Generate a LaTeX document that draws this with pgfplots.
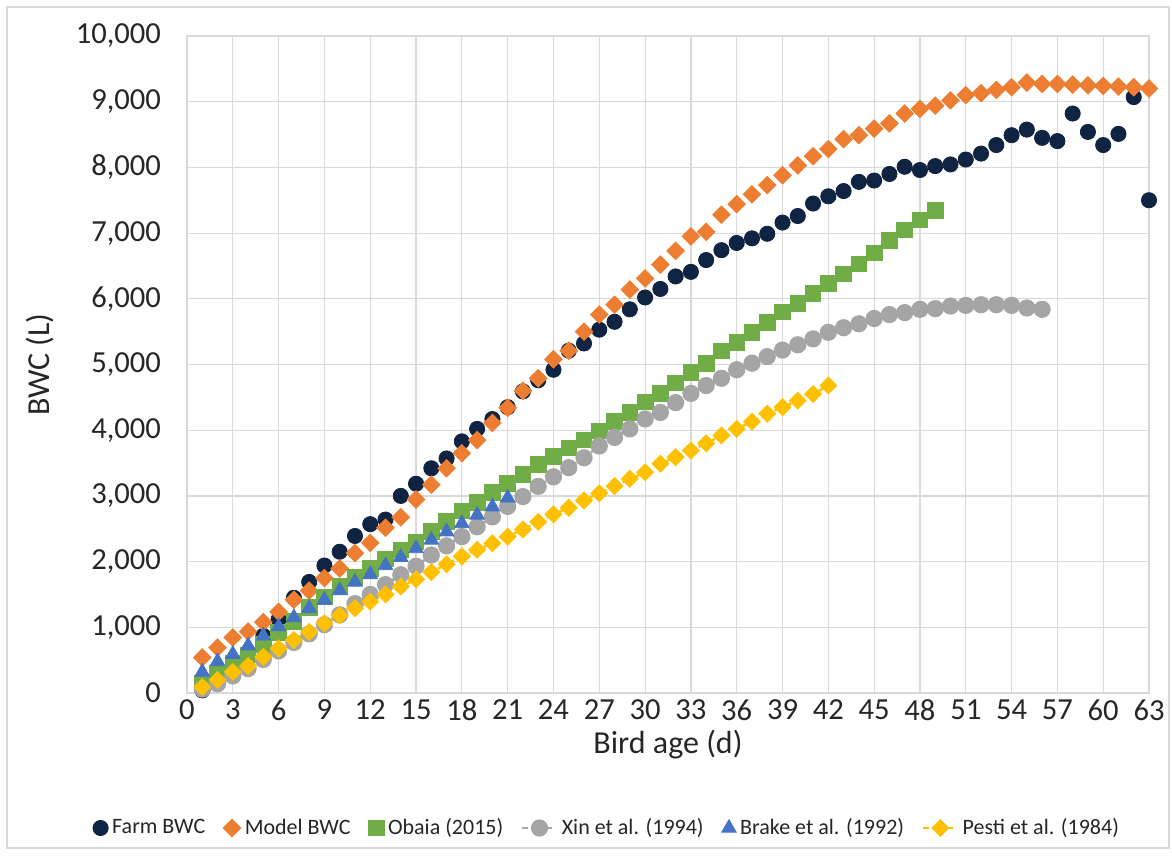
\documentclass[border=0pt]{standalone}
\usepackage{fontspec}
\setmainfont{Carlito}
\usepackage{pgfplots}
\pgfplotsset{compat=1.18}
\definecolor{cfarm}{HTML}{0F2342}
\definecolor{cmodel}{HTML}{ED7D31}
\definecolor{cobaia}{HTML}{70AD47}
\definecolor{cxin}{HTML}{A5A5A5}
\definecolor{cbrake}{HTML}{4472C4}
\definecolor{cpesti}{HTML}{FFC000}
\definecolor{gridc}{HTML}{D9D9D9}
\begin{document}
\begin{tikzpicture}
\path[use as bounding box] (0,0) rectangle (586pt,429pt);
\draw[color=gridc, line width=0.6pt] (3.5pt,5pt) rectangle (584.5pt,425.5pt);
\begin{axis}[
  at={(93.5pt,82.5pt)}, anchor=south west,
  scale only axis, width=481pt, height=328.5pt,
  xmin=0, xmax=63, ymin=0, ymax=10000,
  xtick={0,3,...,63}, ytick={0,1000,...,10000},
  grid=major, grid style={draw=gridc, line width=0.6pt},
  axis line style={draw=gridc, line width=0.6pt},
  major tick length=0pt,
  /pgf/number format/assume math mode=true,
  /pgf/number format/1000 sep={,},
  scaled y ticks=false,
  tick label style={font=\fontsize{15.3}{18}\selectfont, text=black!85},
  yticklabel style={xshift=-9.5pt},
  xlabel={Bird age (d)}, ylabel={BWC (L)},
  label style={font=\fontsize{16}{19}\selectfont, text=black!85},
  xlabel style={at={(axis description cs:0.5,-0.0792)}, anchor=center},
  ylabel style={at={(axis description cs:-0.1528,0.5)}, anchor=center},
  legend style={at={(axis description cs:0.4376,-0.2055)}, anchor=center, draw=none,
    font=\fontsize{11}{13}\selectfont, text=black!85,
    /tikz/every even column/.append style={column sep=7pt}},
  legend columns=6,
]
\addplot[only marks, mark=*, mark size=3.8pt, color=cfarm] table {
1 40
2 170
3 380
4 620
5 870
6 1120
7 1450
8 1690
9 1940
10 2150
11 2390
12 2570
13 2640
14 3000
15 3185
16 3420
17 3570
18 3830
19 4020
20 4170
21 4350
22 4590
23 4760
24 4920
25 5210
26 5320
27 5530
28 5650
29 5840
30 6020
31 6150
32 6340
33 6410
34 6590
35 6740
36 6850
37 6920
38 6990
39 7160
40 7260
41 7450
42 7560
43 7640
44 7780
45 7800
46 7900
47 8010
48 7960
49 8020
50 8045
51 8120
52 8210
53 8340
54 8490
55 8575
56 8450
57 8400
58 8820
59 8540
60 8340
61 8510
62 9070
63 7500
};
\addlegendentry{Farm BWC}
\addplot[only marks, mark=square*, mark options={rotate=45}, mark size=3.1pt, color=cmodel] table {
1 540
2 690
3 845
4 935
5 1080
6 1235
7 1420
8 1558
9 1750
10 1895
11 2130
12 2285
13 2515
14 2675
15 2945
16 3170
17 3420
18 3650
19 3850
20 4110
21 4340
22 4600
23 4790
24 5080
25 5210
26 5500
27 5760
28 5910
29 6140
30 6310
31 6520
32 6730
33 6950
34 7020
35 7280
36 7440
37 7590
38 7730
39 7880
40 8030
41 8170
42 8280
43 8430
44 8490
45 8590
46 8670
47 8820
48 8890
49 8940
50 9020
51 9100
52 9130
53 9180
54 9220
55 9290
56 9270
57 9270
58 9260
59 9250
60 9240
61 9230
62 9220
63 9200
};
\addlegendentry{Model BWC}
\addplot[only marks, mark=square*, mark size=3.9pt, color=cobaia] table {
1 150
2 300
3 450
4 580
5 740
6 920
7 1090
8 1300
9 1460
10 1620
11 1760
12 1900
13 2040
14 2180
15 2300
16 2460
17 2610
18 2770
19 2900
20 3050
21 3190
22 3330
23 3480
24 3600
25 3730
26 3850
27 3990
28 4130
29 4270
30 4430
31 4560
32 4720
33 4880
34 5020
35 5210
36 5340
37 5490
38 5640
39 5800
40 5930
41 6080
42 6230
43 6380
44 6530
45 6700
46 6890
47 7050
48 7200
49 7350
};
\addlegendentry{Obaia (2015)}
\addplot[color=cxin, line width=1.2pt, dashed, mark=*, mark size=3.7pt, mark options={solid}] table {
1 60
2 140
3 260
4 370
5 510
6 640
7 770
8 900
9 1040
10 1190
11 1360
12 1500
13 1650
14 1800
15 1930
16 2100
17 2240
18 2380
19 2530
20 2680
21 2840
22 2990
23 3145
24 3290
25 3430
26 3580
27 3760
28 3890
29 4020
30 4170
31 4270
32 4420
33 4560
34 4680
35 4790
36 4920
37 5020
38 5120
39 5220
40 5300
41 5390
42 5490
43 5560
44 5620
45 5700
46 5760
47 5790
48 5840
49 5850
50 5890
51 5900
52 5910
53 5910
54 5900
55 5860
56 5840
};
\addlegendentry{Xin et al. (1994)}
\addplot[only marks, mark=triangle*, mark size=4.2pt, color=cbrake] table {
1 320
2 480
3 590
4 720
5 870
6 1010
7 1150
8 1290
9 1415
10 1560
11 1690
12 1805
13 1940
14 2065
15 2200
16 2330
17 2455
18 2580
19 2710
20 2835
21 2970
};
\addlegendentry{Brake et al. (1992)}
\addplot[color=cpesti, line width=1.2pt, dashed, mark=square*, mark size=2.6pt, mark options={solid, rotate=45}] table {
1 90
2 200
3 320
4 410
5 550
6 680
7 805
8 930
9 1060
10 1180
11 1290
12 1390
13 1500
14 1620
15 1730
16 1840
17 1960
18 2080
19 2180
20 2280
21 2380
22 2490
23 2605
24 2720
25 2820
26 2930
27 3040
28 3150
29 3260
30 3360
31 3490
32 3590
33 3690
34 3800
35 3920
36 4020
37 4130
38 4250
39 4350
40 4450
41 4550
42 4680
};
\addlegendentry{Pesti et al. (1984)}
\end{axis}
\end{tikzpicture}
\end{document}
